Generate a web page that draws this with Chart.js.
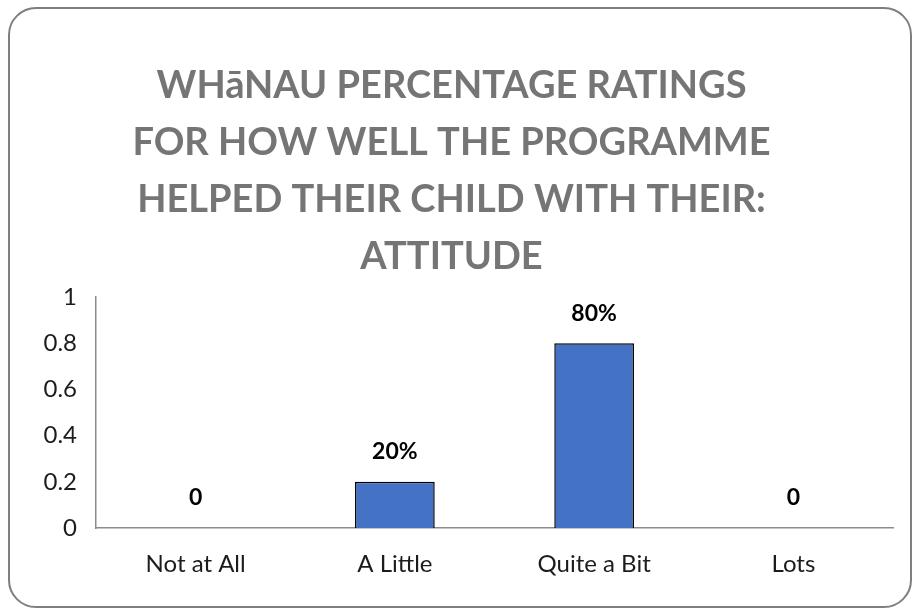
<!DOCTYPE html>
<html lang="en">
<head>
    <meta charset="UTF-8">
    <title>Whānau ratings - Attitude</title>
    <script src="https://cdn.jsdelivr.net/npm/chart.js"></script>
    <style>
        html, body { margin: 0; padding: 0; background: #fff; }
        .frame {
            position: absolute;
            left: 8px; top: 7px;
            width: 900px; height: 597px;
            border: 2px solid #7f7f7f;
            border-radius: 28px;
            background: #fff;
        }
        .frame canvas { display: block; }
    </style>
</head>
<body>
    <div class="frame">
        <canvas id="ratingChart" width="900" height="597"></canvas>
    </div>
    <script>
    const categories = ['Not at All', 'A Little', 'Quite a Bit', 'Lots'];
    const shares = [0, 0.2, 0.8, 0];
    const yTicks = [0, 0.2, 0.4, 0.6, 0.8, 1];
    const titleLines = [
        'WHāNAU PERCENTAGE RATINGS',
        'FOR HOW WELL THE PROGRAMME',
        'HELPED THEIR CHILD WITH THEIR:',
        'ATTITUDE'
    ];

    const FONT = 'Lato, "Open Sans", sans-serif';
    const TEXT = '#1c1c1c';

    // value labels above each bar: plain 0, otherwise a percentage
    const valueLabels = {
        id: 'valueLabels',
        afterDatasetsDraw(chart) {
            const { ctx } = chart;
            const meta = chart.getDatasetMeta(0);
            ctx.save();
            ctx.font = 'bold 23px ' + FONT;
            ctx.fillStyle = '#000';
            ctx.textAlign = 'center';
            ctx.textBaseline = 'middle';
            meta.data.forEach((bar, i) => {
                const v = shares[i];
                const text = v === 0 ? '0' : Math.round(v * 100) + '%';
                ctx.fillText(text, bar.x, bar.y - 30);
            });
            ctx.restore();
        }
    };

    new Chart(document.getElementById('ratingChart'), {
        type: 'bar',
        data: {
            labels: categories,
            datasets: [{
                data: shares,
                backgroundColor: '#4472c4',
                borderColor: '#000',
                borderWidth: 1.5,
                barPercentage: 0.4,
                categoryPercentage: 1
            }]
        },
        options: {
            responsive: false,
            animation: false,
            layout: { padding: { left: 0, right: 17, bottom: 0 } },
            plugins: {
                legend: { display: false },
                tooltip: { enabled: false },
                title: {
                    display: true,
                    text: titleLines,
                    color: '#757575',
                    font: { family: FONT, size: 38, weight: 'bold', lineHeight: 1.5 },
                    padding: { top: 48, bottom: 12 }
                }
            },
            scales: {
                x: {
                    afterFit(scale) { scale.height = 78; },
                    grid: { display: false },
                    border: { display: true, color: '#8c8c8c', width: 1.5 },
                    ticks: { color: TEXT, font: { family: FONT, size: 24 }, padding: 14 }
                },
                y: {
                    min: 0,
                    max: 1,
                    afterFit(scale) { scale.width = 86; },
                    afterBuildTicks(axis) { axis.ticks = yTicks.map(v => ({ value: v })); },
                    grid: { display: false },
                    border: { display: true, color: '#8c8c8c', width: 1.5 },
                    ticks: {
                        color: TEXT,
                        font: { family: FONT, size: 24 },
                        padding: 11,
                        callback: v => String(v)
                    }
                }
            }
        },
        plugins: [valueLabels]
    });
    </script>
</body>
</html>
